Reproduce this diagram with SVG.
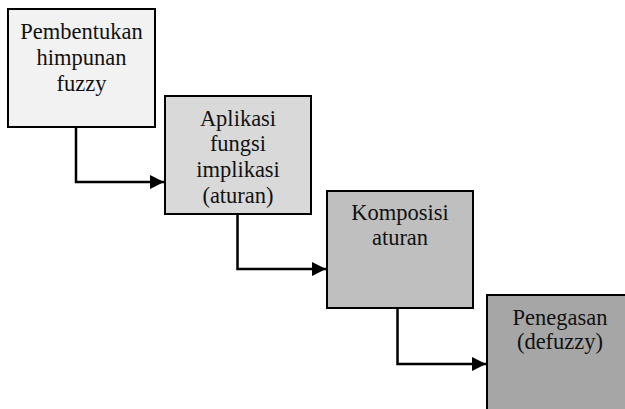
<svg xmlns="http://www.w3.org/2000/svg" width="625" height="409" viewBox="0 0 625 409">
<style>
.box{stroke:#000;stroke-width:2}
.t{font-family:'Liberation Serif', 'Times New Roman', Times, serif;font-size:22.5px;fill:#111;text-anchor:middle}
.c{fill:none;stroke:#000;stroke-width:2.5}
</style>
<defs>
<marker id="ah" markerWidth="16" markerHeight="16" refX="14" refY="7" orient="auto" markerUnits="userSpaceOnUse">
<path d="M0,0 L14,7 L0,14 Z" fill="#000"/>
</marker>
</defs>
<rect width="625" height="409" fill="#fff"/>
<g id="n1">
<rect class="box" x="8" y="9" width="147" height="118" fill="#f2f2f2"/>
<text class="t" font-family="Liberation Serif, serif" x="81.5" y="39">Pembentukan</text>
<text class="t" font-family="Liberation Serif, serif" x="81.5" y="65">himpunan</text>
<text class="t" font-family="Liberation Serif, serif" x="81.5" y="91">fuzzy</text>
</g>
<g id="n2">
<rect class="box" x="165" y="96" width="146" height="118" fill="#d9d9d9"/>
<text class="t" font-family="Liberation Serif, serif" x="238" y="126">Aplikasi</text>
<text class="t" font-family="Liberation Serif, serif" x="238" y="151">fungsi</text>
<text class="t" font-family="Liberation Serif, serif" x="238" y="177">implikasi</text>
<text class="t" font-family="Liberation Serif, serif" x="238" y="203">(aturan)</text>
</g>
<g id="n3">
<rect class="box" x="327" y="191" width="146" height="117" fill="#bfbfbf"/>
<text class="t" font-family="Liberation Serif, serif" x="400" y="220">Komposisi</text>
<text class="t" font-family="Liberation Serif, serif" x="400" y="245">aturan</text>
</g>
<g id="n4">
<rect class="box" x="487" y="295" width="146" height="120" fill="#a6a6a6"/>
<text class="t" font-family="Liberation Serif, serif" x="560" y="325">Penegasan</text>
<text class="t" font-family="Liberation Serif, serif" x="560" y="349">(defuzzy)</text>
</g>
<g id="connectors">
<path class="c" d="M76,127 V182 H164" marker-end="url(#ah)"/>
<path class="c" d="M237.5,214 V269 H326" marker-end="url(#ah)"/>
<path class="c" d="M397.5,308 V364 H486" marker-end="url(#ah)"/>
</g>
</svg>
